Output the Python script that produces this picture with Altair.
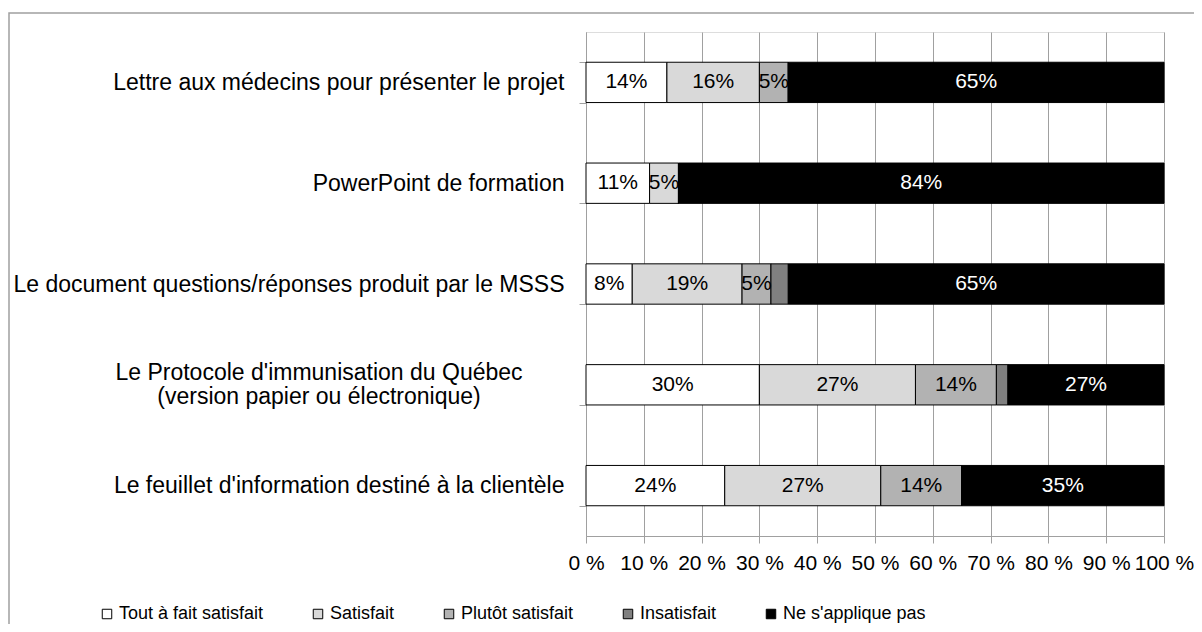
import altair as alt
import pandas as pd

categories = [
    "Lettre aux médecins pour présenter le projet",
    "PowerPoint de formation",
    "Le document questions/réponses produit par le MSSS",
    "Le Protocole d'immunisation du Québec|(version papier ou électronique)",
    "Le feuillet d'information destiné à la clientèle",
]
series = ["Tout à fait satisfait", "Satisfait", "Plutôt satisfait", "Insatisfait", "Ne s'applique pas"]
tout_a_fait = [14, 11, 8, 30, 24]
satisfait = [16, 5, 19, 27, 27]
plutot = [5, 0, 5, 14, 14]
insatisfait = [0, 0, 3, 2, 0]
ne_sapplique = [65, 84, 65, 27, 35]
colors = ["#FFFFFF", "#D9D9D9", "#B2B2B2", "#808080", "#000000"]
x_ticks = [0, 10, 20, 30, 40, 50, 60, 70, 80, 90, 100]

values_by_series = [tout_a_fait, satisfait, plutot, insatisfait, ne_sapplique]
rows = []
for si, (s, vals) in enumerate(zip(series, values_by_series)):
    for ci, c in enumerate(categories):
        rows.append({"cat": c, "series": s, "idx": si, "value": vals[ci]})
df = pd.DataFrame(rows)

FONT = "Liberation Sans"
GRID = "#a0a0a0"

base = alt.Chart(df).transform_stack(
    stack="value", groupby=["cat"], as_=["x0", "x1"], sort=[alt.SortField("idx", order="ascending")]
).transform_calculate(mid="(datum.x0 + datum.x1) / 2")

y_enc = alt.Y(
    "cat:N",
    sort=categories,
    scale=alt.Scale(paddingInner=0.6, paddingOuter=0.3),
    axis=alt.Axis(
        title=None,
        labelExpr="indexof(datum.label, '|') >= 0 ? '' : datum.label",
        labelFontSize=23,
        labelFont=FONT,
        labelColor="black",
        labelLimit=1000,
        labelPadding=15,
        tickSize=7,
        tickBand="extent",
        tickColor=GRID,
        domainColor=GRID,
        grid=False,
    ),
)

bars = base.mark_bar(stroke="black", strokeWidth=1).encode(
    x=alt.X(
        "x0:Q",
        scale=alt.Scale(domain=[0, 100], nice=False),
        axis=alt.Axis(
            title=None,
            values=x_ticks,
            labelExpr="datum.value + ' %'",
            labelFontSize=21,
            labelFont=FONT,
            labelColor="black",
            labelPadding=9,
            tickSize=7,
            tickColor=GRID,
            domainColor=GRID,
            grid=True,
            gridColor=GRID,
            labelFlush=False,
        ),
    ),
    x2="x1:Q",
    y=y_enc,
    color=alt.Color(
        "series:N",
        scale=alt.Scale(domain=series, range=colors),
        legend=alt.Legend(
            title=None,
            orient="none",
            legendX=-488,
            legendY=573,
            direction="horizontal",
            symbolType="square",
            symbolSize=90,
            symbolStrokeColor="black",
            symbolStrokeWidth=1,
            labelFontSize=18,
            labelFont=FONT,
            labelColor="black",
            labelOffset=3,
            columnPadding=45,
            labelLimit=400,
        ),
    ),
    order=alt.Order("idx:Q"),
)

labels = base.transform_filter(
    (alt.datum.value > 0) & (alt.datum.series != "Insatisfait")
).transform_calculate(lbl="datum.value + '%'").mark_text(
    fontSize=21, font=FONT, baseline="middle", align="center"
).encode(
    x=alt.X("mid:Q"),
    y=alt.Y("cat:N", sort=categories),
    text="lbl:N",
    color=alt.condition(
        alt.datum.series == "Ne s'applique pas", alt.value("white"), alt.value("black")
    ),
)

# two-line category label, centred line by line as in the original
two_line = alt.Chart(pd.DataFrame({"cat": [categories[3]]})).mark_text(
    fontSize=23, font=FONT, align="center", baseline="middle", lineBreak="|",
    lineHeight=24, dy=-12, color="black"
).encode(
    x=alt.value(-267),
    y=alt.Y("cat:N", sort=categories),
    text="cat:N",
)

frame = alt.Chart(pd.DataFrame({"a": [0]})).mark_rect(
    fill="transparent", stroke=GRID, strokeWidth=1.5
).encode(
    x=alt.value(-577), x2=alt.value(640), y=alt.value(-19), y2=alt.value(640)
)

chart = alt.layer(frame, bars, labels, two_line).properties(
    width=578,
    height=504,
    autosize=alt.AutoSizeParams(type="none"),
    padding={"left": 578, "top": 24, "right": 30, "bottom": 88},
).configure_view(stroke="transparent").configure(background="white")

chart.save("out.html", embed_options={"renderer": "svg", "actions": False})
